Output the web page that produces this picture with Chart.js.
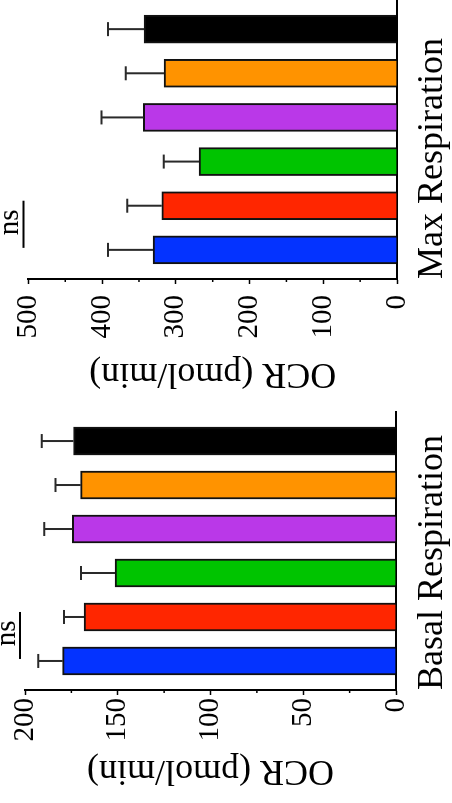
<!DOCTYPE html>
<html>
<head>
<meta charset="utf-8">
<script src="https://cdn.jsdelivr.net/npm/chart.js@4"></script>
<style>
  html, body { margin: 0; padding: 0; background: #ffffff; }
  body { width: 452px; height: 803px; overflow: hidden; position: relative; }
  #wrap { position: absolute; left: 0; top: 803px; width: 803px; height: 452px;
          transform-origin: 0 0; transform: rotate(-90deg); }
  .panel { position: absolute; top: 0; height: 452px; }
  canvas { display: block; }
</style>
</head>
<body>
<div id="wrap">
  <div class="panel" style="left:0;width:403px"><canvas id="basal" width="403" height="452"></canvas></div>
  <div class="panel" style="left:403px;width:400px"><canvas id="maxr" width="400" height="452"></canvas></div>
</div>
<script>
// ---------- data ----------
const groups = ['Group 1', 'Group 2', 'Group 3', 'Group 4', 'Group 5', 'Group 6'];
const basalMeans  = [179.7, 168.2, 151.5, 174.5, 170.0, 173.8];
const basalErrors = [13.2, 10.8, 18.3, 15.1, 13.5, 17.2];
const maxMeans    = [331, 319, 268.5, 344, 316, 343];
const maxErrors   = [61, 47, 48, 57, 52, 49];
const basalTicks      = [0, 50, 100, 150, 200];
const basalMinorTicks = [25, 75, 125, 175];
const maxTicks        = [0, 100, 200, 300, 400, 500];
const maxMinorTicks   = [50, 150, 250, 350, 450];
const sigPair  = [0, 1];
const sigLabel = 'ns';
const yTitle   = 'OCR (pmol/min)';
const basalTitle = 'Basal Respiration';
const maxTitle   = 'Max Respiration';

// ---------- styles ----------
const barColors = ['#0433FF', '#FF2600', '#00C400', '#BA38E8', '#FF9300', '#000000'];
const FONT = "'Liberation Serif', 'Times New Roman', Times, serif";
Chart.defaults.font.family = FONT;
Chart.defaults.color = '#000';

const extras = {
  id: 'extras',
  afterDatasetsDraw(chart, args, o) {
    const { ctx, chartArea } = chart;
    const y = chart.scales.y;
    const meta = chart.getDatasetMeta(0);
    ctx.save();
    // error bars
    ctx.strokeStyle = '#2a2a2a';
    ctx.lineWidth = 2;
    o.errors.forEach((e, i) => {
      const bar = meta.data[i];
      const cx = bar.x;
      const y0 = y.getPixelForValue(o.means[i]);
      const y1 = y.getPixelForValue(o.means[i] + e);
      ctx.beginPath();
      ctx.moveTo(cx, y0); ctx.lineTo(cx, y1);
      ctx.moveTo(cx - 7, y1); ctx.lineTo(cx + 7, y1);
      ctx.stroke();
    });
    // minor ticks
    ctx.strokeStyle = '#000';
    ctx.lineWidth = 1.5;
    o.minor.forEach(v => {
      const py = y.getPixelForValue(v);
      ctx.beginPath();
      ctx.moveTo(chartArea.left - 3, py); ctx.lineTo(chartArea.left, py);
      ctx.stroke();
    });
    // significance marker
    const x0 = meta.data[o.pair[0]].x + 2;
    const x1 = meta.data[o.pair[1]].x + 5;
    const ly = chartArea.top - 5;
    ctx.lineWidth = 2;
    ctx.beginPath();
    ctx.moveTo(x0, ly); ctx.lineTo(x1, ly);
    ctx.stroke();
    ctx.fillStyle = '#000';
    ctx.font = '29px ' + FONT;
    ctx.textAlign = 'center';
    ctx.textBaseline = 'alphabetic';
    ctx.fillText(o.label, (x0 + x1) / 2 + 2, ly - 5);
    ctx.restore();
  }
};

function makeChart(id, means, errors, ticks, minor, title, cfg) {
  const maxV = ticks[ticks.length - 1];
  return new Chart(document.getElementById(id), {
    type: 'bar',
    data: {
      labels: groups,
      datasets: [{
        data: means.map((v, i) => ({ x: i, y: v })),
        backgroundColor: barColors,
        borderColor: '#111',
        borderWidth: 2,
        barThickness: 28
      }]
    },
    options: {
      responsive: false,
      animation: false,
      events: [],
      layout: { padding: { top: cfg.padTop, right: cfg.padRight, left: 0, bottom: 0 } },
      plugins: {
        legend: { display: false },
        tooltip: { enabled: false },
        extras: { means, errors, minor, pair: sigPair, label: sigLabel }
      },
      scales: {
        x: {
          type: 'linear',
          offset: false,
          bounds: 'data',
          min: -0.66, max: 5.66,
          ticks: { display: false },
          grid: { display: true, offset: false, drawOnChartArea: false, drawTicks: false },
          border: { display: true, color: '#000', width: 2 },
          title: {
            display: true, text: title, align: 'start',
            font: { size: 36, lineHeight: 1.1 }, color: '#000',
            padding: { top: 0, bottom: 0 }
          },
          afterFit: s => { s.height = cfg.xHeight; }
        },
        y: {
          min: 0, max: maxV,
          afterBuildTicks: s => { s.ticks = ticks.map(v => ({ value: v })); },
          ticks: { font: { size: 29 }, color: '#000', padding: cfg.tickPad },
          grid: { drawOnChartArea: false, drawTicks: true, tickLength: 5, tickWidth: 1.5, tickColor: '#000' },
          border: { display: true, color: '#000', width: 2 },
          title: {
            display: true, text: yTitle,
            font: { size: 36, lineHeight: 1.2 }, color: '#000',
            padding: { top: cfg.titlePad, bottom: 0 }
          },
          afterFit: s => { s.width = cfg.yWidth; }
        }
      }
    },
    plugins: [extras]
  });
}

makeChart('basal', basalMeans, basalErrors, basalTicks, basalMinorTicks, basalTitle,
  { padTop: 25, padRight: 12, xHeight: 56, tickPad: 3, titlePad: 11, yWidth: 113 });
makeChart('maxr', maxMeans, maxErrors, maxTicks, maxMinorTicks, maxTitle,
  { padTop: 27, padRight: 0, xHeight: 55, tickPad: 11, titlePad: 4.5, yWidth: 121 });
</script>
</body>
</html>
